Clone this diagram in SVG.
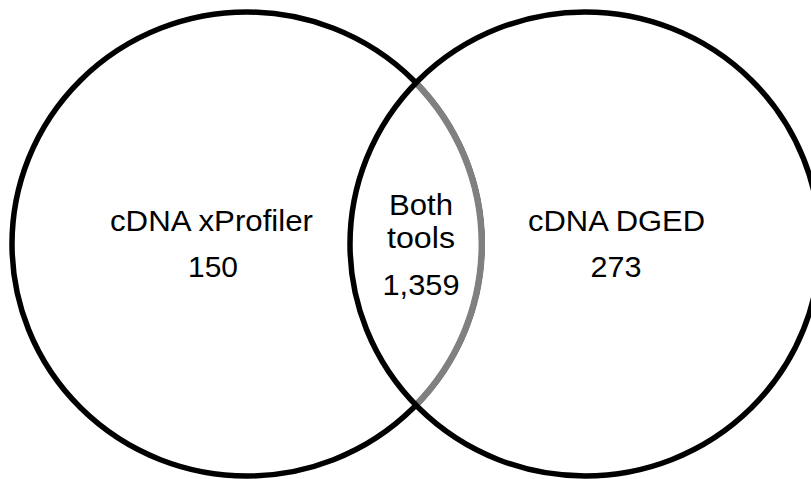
<svg xmlns="http://www.w3.org/2000/svg" width="811" height="479" viewBox="0 0 811 479">
<style>
.set{fill:none;stroke:#000;stroke-width:5.5}
.lap{fill:none;stroke:#808080;stroke-width:6.5}
text{font-family:"Liberation Sans",Arial,sans-serif;font-size:29px;fill:#000;text-anchor:middle}
</style>
<rect width="811" height="479" fill="#fff"/>
<g id="left-set">
<ellipse class="set" cx="247" cy="244" rx="235" ry="232"/>
</g>
<g id="overlap-edge">
<path class="lap" d="M416,83 A235,232 0 0,1 416,405"/>
</g>
<g id="right-set">
<ellipse class="set" cx="585" cy="244" rx="235" ry="232"/>
</g>
<g id="label-left">
<text x="211.5" y="231" textLength="203" lengthAdjust="spacingAndGlyphs">cDNA xProfiler</text>
<text x="213" y="277" textLength="50" lengthAdjust="spacingAndGlyphs">150</text>
</g>
<g id="label-both">
<text x="421" y="215" textLength="64" lengthAdjust="spacingAndGlyphs">Both</text>
<text x="421" y="248" textLength="68" lengthAdjust="spacingAndGlyphs">tools</text>
<text x="421" y="295" textLength="77" lengthAdjust="spacingAndGlyphs">1,359</text>
</g>
<g id="label-right">
<text x="616.5" y="231" textLength="177" lengthAdjust="spacingAndGlyphs">cDNA DGED</text>
<text x="616" y="277" textLength="51" lengthAdjust="spacingAndGlyphs">273</text>
</g>
</svg>
